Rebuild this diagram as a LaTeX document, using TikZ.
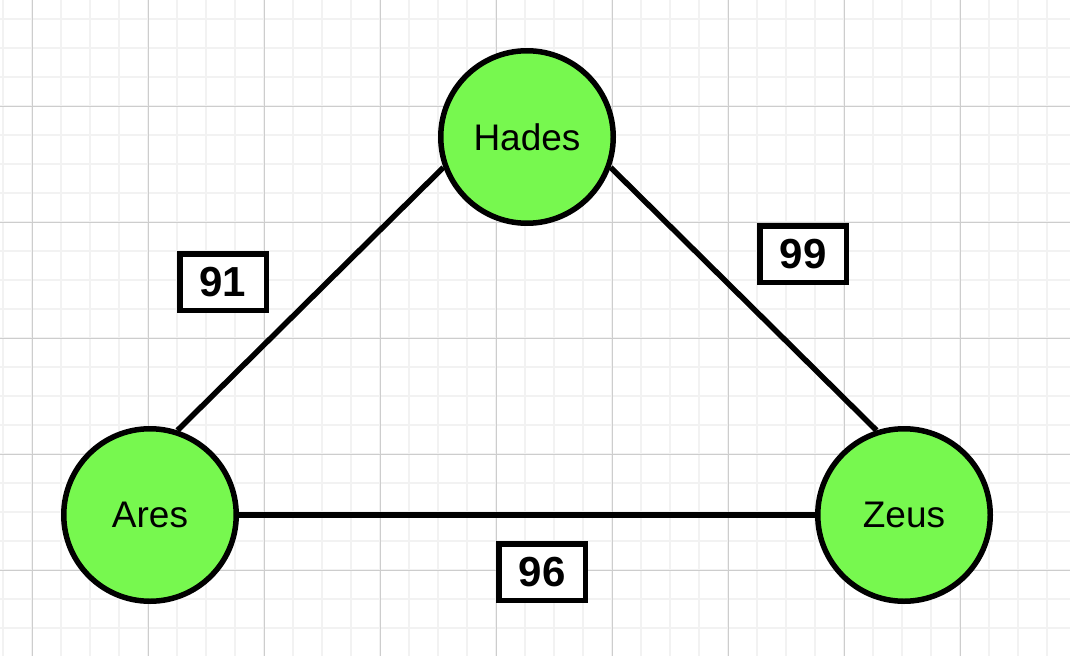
\documentclass[tikz,border=0pt]{standalone}
\usepackage{fontspec}
\setmainfont{Liberation Sans}
\usepackage{tikz}
\definecolor{godgreen}{HTML}{77F84F}
\definecolor{minorgrid}{HTML}{F2F2F2}
\definecolor{majorgrid}{HTML}{CDCDCD}

\begin{document}
\begin{tikzpicture}
  [x=1pt,y=-1pt,every node/.style={circle,draw,line width=5.5pt,fill=godgreen,minimum size=172.5pt,inner sep=0pt,font=\fontsize{37}{44}\selectfont},
   wbox/.style={rectangle,fill=white,minimum width=86.5pt,minimum height=56.5pt,line width=5.5pt,font=\bfseries\fontsize{42}{50}\selectfont}]

  \useasboundingbox (0,0) rectangle (1070,656);
  \fill[white] (0,0) rectangle (1070,656);
  \foreach \x in {3,32,...,1070}
    \draw[minorgrid,line width=1.3pt] (\x,0) -- (\x,656);
  \foreach \y in {19,48,...,656}
    \draw[minorgrid,line width=1.3pt] (0,\y) -- (1070,\y);
  \foreach \x in {32,148,...,1070}
    \draw[majorgrid,line width=1pt] (\x,0) -- (\x,656);
  \foreach \y in {106,222,...,656}
    \draw[majorgrid,line width=1pt] (0,\y) -- (1070,\y);

  \node (hades) at (527,137) {Hades};
  \node (ares) at (150,515) {Ares};
  \node (zeus) at (904,515) {Zeus};
  \foreach \from/\to in {ares.72/hades.200,hades.340/zeus.108,ares.east/zeus.west}
    \draw[line width=5.5pt] (\from) -- (\to);

  \node[wbox] (w91) at (223,282) {91};
  \node[wbox] (w99) at (803,254) {99};
  \node[wbox] (w96) at (542,572) {96};
\end{tikzpicture}
\end{document}
